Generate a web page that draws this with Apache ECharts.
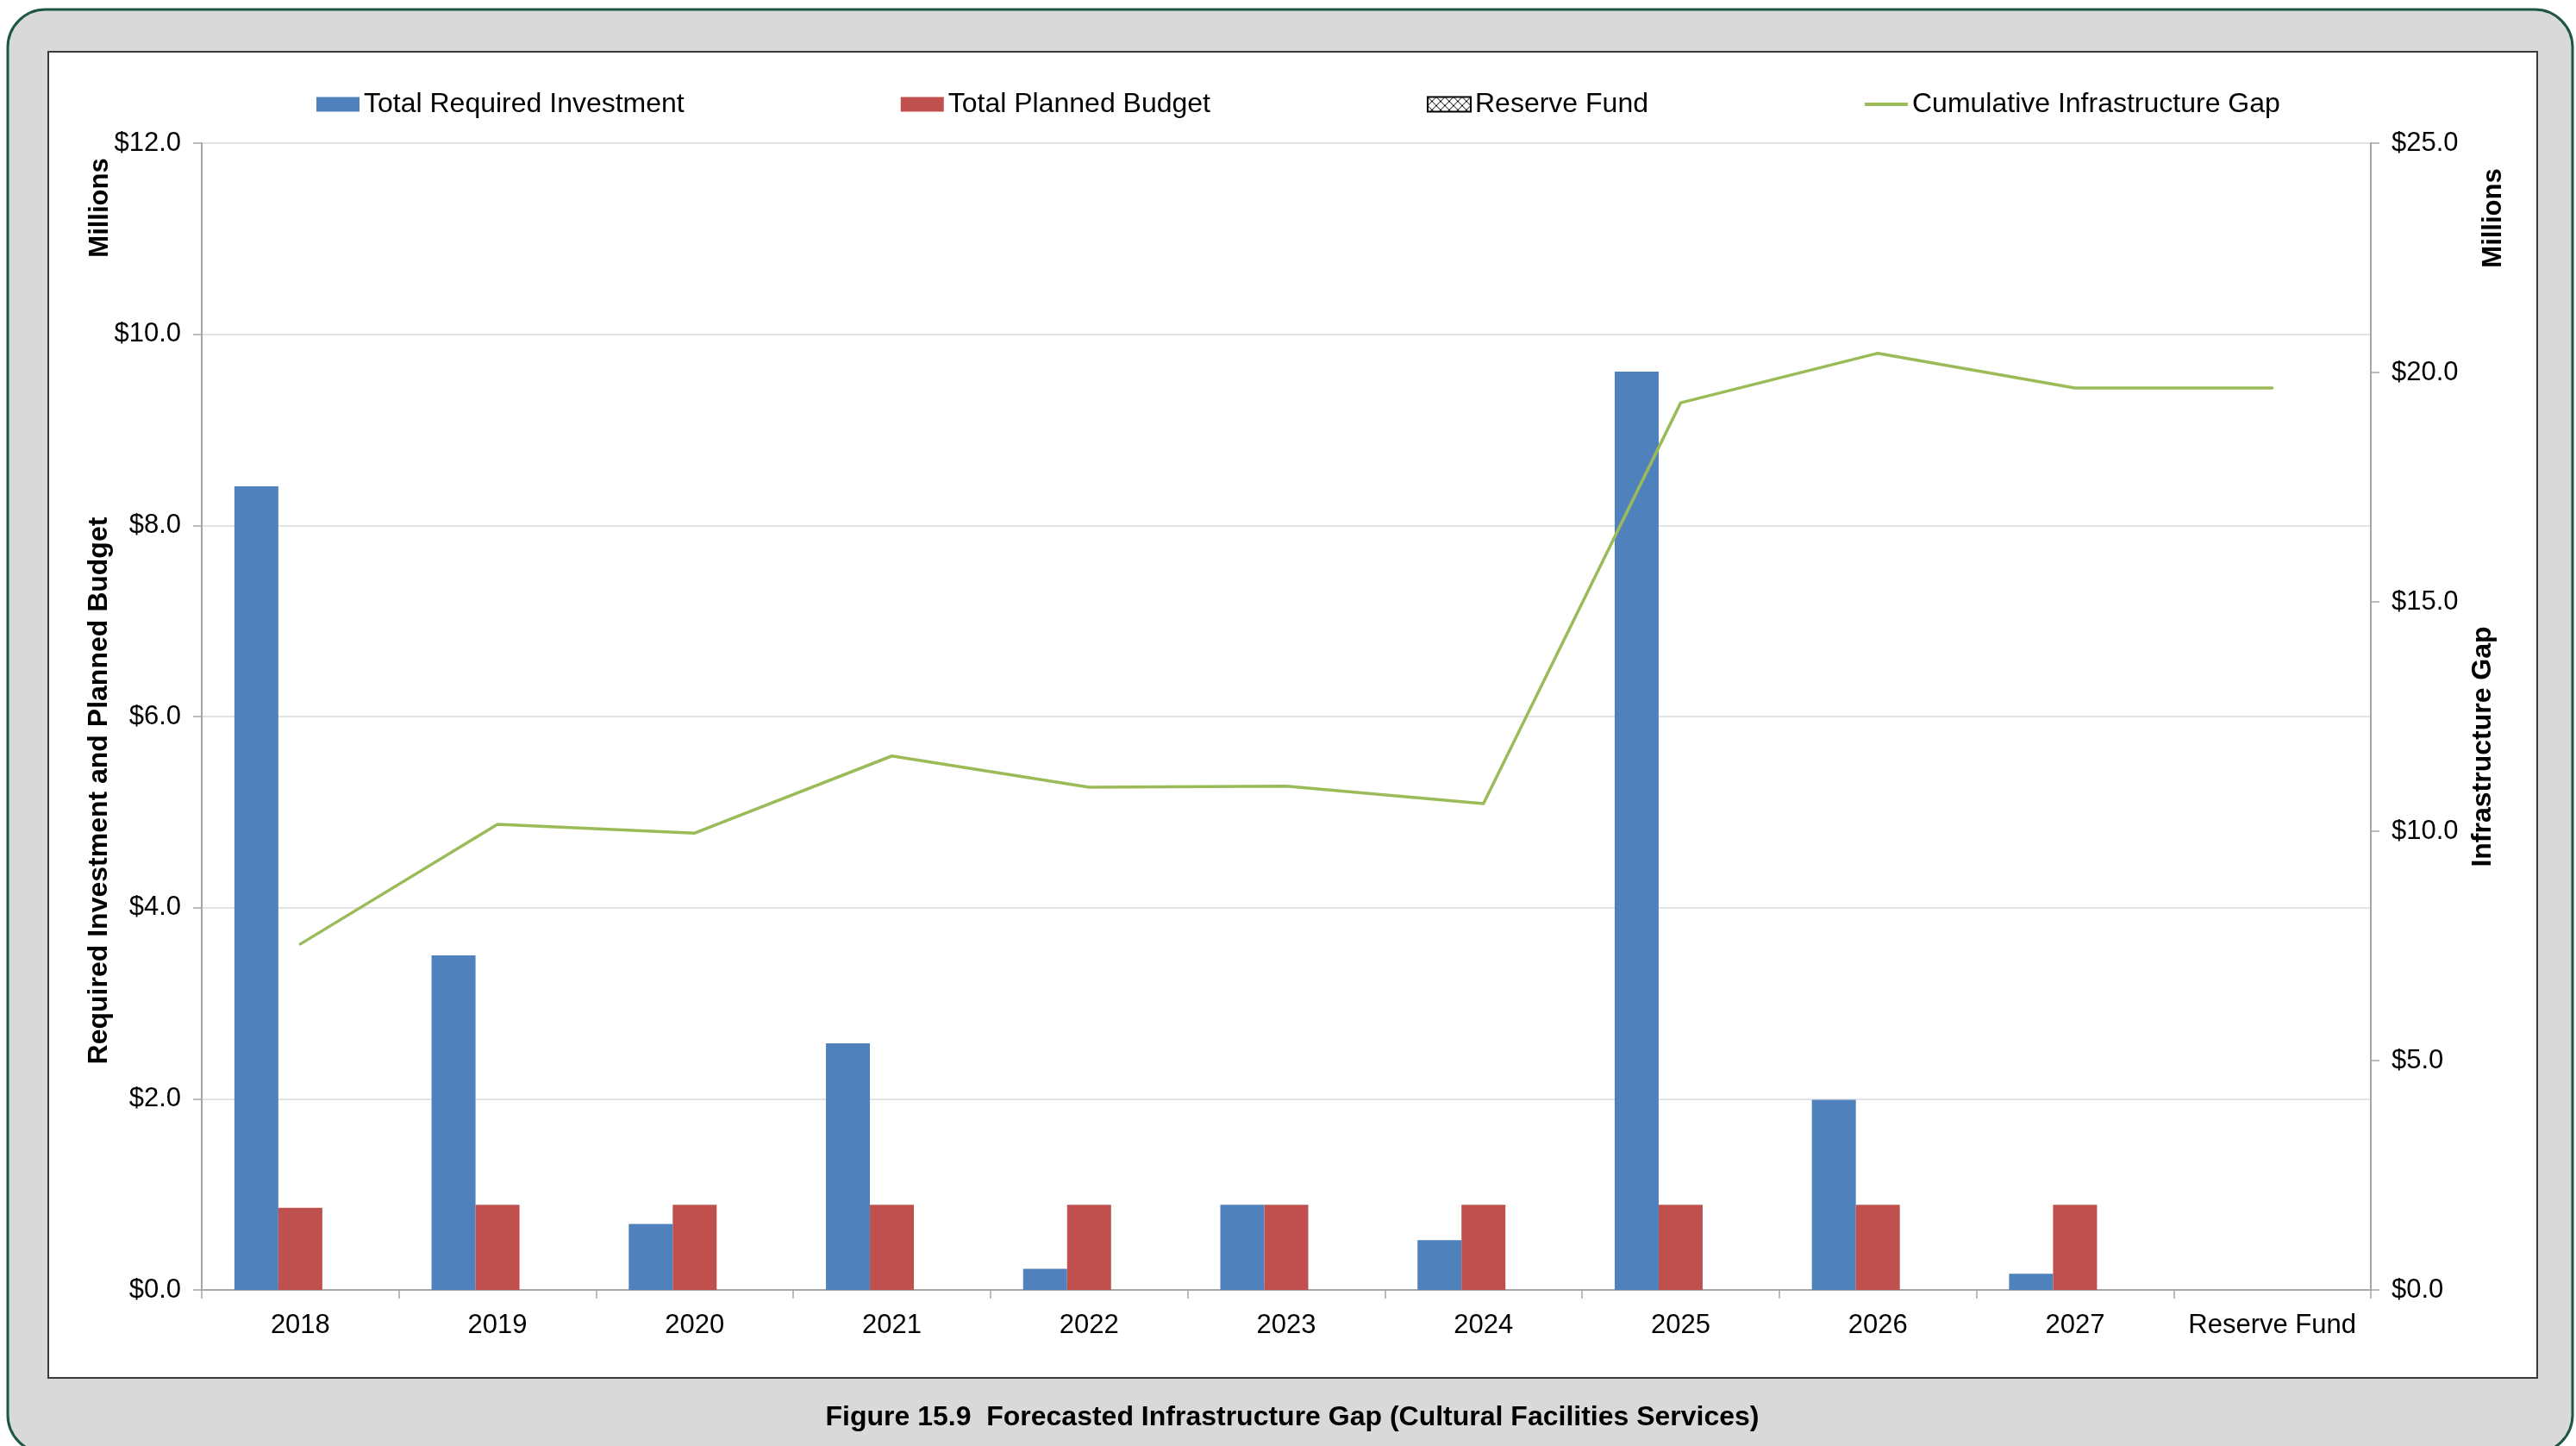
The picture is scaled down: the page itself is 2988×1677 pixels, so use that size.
<!DOCTYPE html>
<html>
<head>
<meta charset="utf-8">
<title>Forecasted Infrastructure Gap (Cultural Facilities Services)</title>
<script src="https://cdn.jsdelivr.net/npm/echarts@6/dist/echarts.min.js"></script>
<style>
  html, body { margin: 0; padding: 0; background: #ffffff; }
  #chart { width: 2988px; height: 1677px; }
</style>
</head>
<body>
<div id="chart"></div>
<script>
// Categories along the x axis
const categories = ['2018', '2019', '2020', '2021', '2022', '2023', '2024', '2025', '2026', '2027', 'Reserve Fund'];

// Bar series, $ millions (left axis)
const requiredInvestment = [8.41, 3.50, 0.69, 2.58, 0.22, 0.89, 0.52, 9.61, 1.99, 0.17, '-'];
const plannedBudget      = [0.86, 0.89, 0.89, 0.89, 0.89, 0.89, 0.89, 0.89, 0.89, 0.89, '-'];
const reserveFund        = ['-', '-', '-', '-', '-', '-', '-', '-', '-', '-', '-'];

// Line series, $ millions (right axis)
const cumulativeGap = [7.54, 10.15, 9.96, 11.64, 10.96, 10.98, 10.60, 19.34, 20.42, 19.66, 19.66];

// Axis ranges
const leftAxis  = { min: 0, max: 12, interval: 2 };
const rightAxis = { min: 0, max: 25, interval: 5 };

const FONT = "'Liberation Sans', Arial, Helvetica, sans-serif";

// Lattice hatch used for the Reserve Fund swatch
function makeHatch() {
  const c = document.createElement('canvas');
  c.width = 10; c.height = 10;
  const g = c.getContext('2d');
  g.fillStyle = '#ffffff';
  g.fillRect(0, 0, 10, 10);
  g.strokeStyle = '#000000';
  g.lineWidth = 1;
  g.beginPath();
  g.moveTo(0, 0); g.lineTo(10, 10);
  g.moveTo(10, 0); g.lineTo(0, 10);
  g.stroke();
  return { image: c, repeat: 'repeat' };
}

const chart = echarts.init(document.getElementById('chart'), null, { renderer: 'canvas' });

const money = v => '$' + Number(v).toFixed(1);
const axisGrey = '#a6a6a6';

chart.setOption({
  backgroundColor: '#ffffff',
  animation: false,
  textStyle: { fontFamily: FONT },
  graphic: [
    {
      type: 'rect', z: -10, silent: true,
      shape: { x: 9, y: 11, width: 2975, height: 1674, r: 44 },
      style: { fill: '#d9d9d9', stroke: '#1d5647', lineWidth: 3 }
    },
    {
      type: 'rect', z: -9, silent: true,
      shape: { x: 56, y: 60, width: 2887, height: 1538 },
      style: { fill: '#ffffff', stroke: '#3a3a3a', lineWidth: 2 }
    },
    {
      type: 'text', silent: true, x: 116, y: 241, rotation: Math.PI / 2,
      style: { text: 'Millions', x: 0, y: 0, align: 'center', verticalAlign: 'middle',
               font: 'bold 31px ' + FONT, fill: '#000' }
    },
    {
      type: 'text', silent: true, x: 115, y: 917, rotation: Math.PI / 2,
      style: { text: 'Required Investment and Planned Budget', x: 0, y: 0, align: 'center', verticalAlign: 'middle',
               font: 'bold 32px ' + FONT, fill: '#000' }
    },
    {
      type: 'text', silent: true, x: 2892, y: 253, rotation: Math.PI / 2,
      style: { text: 'Millions', x: 0, y: 0, align: 'center', verticalAlign: 'middle',
               font: 'bold 31px ' + FONT, fill: '#000' }
    },
    {
      type: 'text', silent: true, x: 2880, y: 866, rotation: Math.PI / 2,
      style: { text: 'Infrastructure Gap', x: 0, y: 0, align: 'center', verticalAlign: 'middle',
               font: 'bold 32px ' + FONT, fill: '#000' }
    },
    {
      type: 'text', silent: true, x: 1499, y: 1644,
      style: { text: 'Figure 15.9  Forecasted Infrastructure Gap (Cultural Facilities Services)',
               x: 0, y: 0, align: 'center', verticalAlign: 'middle',
               font: 'bold 32px ' + FONT, fill: '#000' }
    }
  ],
  legend: {
    left: 362,
    top: 100,
    itemWidth: 50,
    itemHeight: 17,
    itemGap: 251,
    textStyle: { fontSize: 32, color: '#000', fontFamily: FONT, lineHeight: 32 },
    selectedMode: false,
    data: [
      { name: 'Total Required Investment', icon: 'rect' },
      { name: 'Total Planned Budget', icon: 'rect' },
      { name: 'Reserve Fund', icon: 'rect' },
      { name: 'Cumulative Infrastructure Gap', icon: 'path://M0,0 L50,0 L50,4 L0,4 Z' }
    ]
  },
  grid: { left: 234, right: 238, top: 166, bottom: 181, containLabel: false },
  xAxis: {
    type: 'category',
    data: categories,
    boundaryGap: true,
    axisLine: { show: true, lineStyle: { color: axisGrey, width: 2 } },
    axisTick: { show: true, length: 10, lineStyle: { color: axisGrey, width: 1.5 } },
    axisLabel: { fontSize: 31, color: '#000', fontFamily: FONT, margin: 26, interval: 0 },
    splitLine: { show: false }
  },
  yAxis: [
    {
      type: 'value',
      min: leftAxis.min, max: leftAxis.max, interval: leftAxis.interval,
      position: 'left',
      axisLine: { show: true, lineStyle: { color: axisGrey, width: 2 } },
      axisTick: { show: true, length: 10, lineStyle: { color: axisGrey, width: 1.5 } },
      axisLabel: { fontSize: 31, color: '#000', fontFamily: FONT, margin: 24, formatter: money },
      splitLine: { show: true, lineStyle: { color: '#dadada', width: 1.5 } }
    },
    {
      type: 'value',
      min: rightAxis.min, max: rightAxis.max, interval: rightAxis.interval,
      position: 'right',
      axisLine: { show: true, lineStyle: { color: axisGrey, width: 2 } },
      axisTick: { show: true, length: 10, lineStyle: { color: axisGrey, width: 1.5 } },
      axisLabel: { fontSize: 31, color: '#000', fontFamily: FONT, margin: 24, formatter: money },
      splitLine: { show: false }
    }
  ],
  series: [
    {
      name: 'Total Required Investment',
      type: 'bar',
      data: requiredInvestment,
      barWidth: 51,
      barGap: '0%',
      itemStyle: { color: '#4f81bd' }
    },
    {
      name: 'Total Planned Budget',
      type: 'bar',
      data: plannedBudget,
      barWidth: 51,
      barGap: '0%',
      itemStyle: { color: '#c0504d' }
    },
    {
      name: 'Reserve Fund',
      type: 'bar',
      data: reserveFund,
      barWidth: 51,
      barGap: '0%',
      itemStyle: { color: makeHatch(), borderColor: '#000', borderWidth: 1.5 }
    },
    {
      name: 'Cumulative Infrastructure Gap',
      type: 'line',
      yAxisIndex: 1,
      data: cumulativeGap,
      showSymbol: false,
      symbol: 'none',
      lineStyle: { color: '#9bbb59', width: 3.5, cap: 'round', join: 'round' },
      itemStyle: { color: '#9bbb59' },
      z: 5
    }
  ]
});
</script>
</body>
</html>
